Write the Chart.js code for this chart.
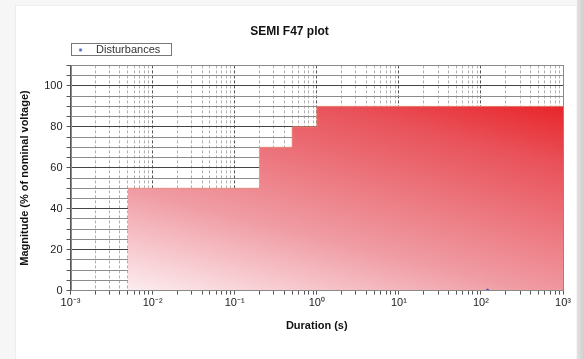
<!DOCTYPE html>
<html>
<head>
    <title>SEMI F47 plot</title>
    <script src="https://cdn.jsdelivr.net/npm/chart.js"></script>
    <style>
body {
    margin: 0;
    width: 584px;
    height: 359px;
    background-color: #f6f6f6;
    overflow: hidden;
    position: relative;
}
.card {
    position: absolute;
    left: 15px;
    top: 5px;
    width: 560px;
    height: 354px;
    background: #ffffff;
    border-left: 1px solid #ececec;
    border-top: 1px solid #f0f0f0;
}
.edge {
    position: absolute;
    left: 577px;
    top: 0;
    width: 7px;
    height: 359px;
    background: linear-gradient(to right, #e2e2e2, #cfcfcf);
}
#wrap {
    position: absolute;
    left: 0;
    top: 0;
    width: 584px;
    height: 359px;
}
    </style>
</head>
<body>
    <div class="card"></div>
    <div class="edge"></div>
    <div id="wrap">
        <canvas id="f47Chart"></canvas>
    </div>

    <script>
        // SEMI F47 ride-through curve (corner points)
        const curveDurations = [0.005, 0.2, 0.5, 1, 1000];
        const curveMagnitudes = [50, 70, 80, 90, 90];

        // recorded disturbances
        const disturbanceDurations = [120];
        const disturbanceMagnitudes = [0];

        // axis ticks
        const decades = [-3, -2, -1, 0, 1, 2, 3];
        const decadeLabels = ['10\u207B\u00B3', '10\u207B\u00B2', '10\u207B\u00B9', '10\u2070', '10\u00B9', '10\u00B2', '10\u00B3'];
        const magnitudeLabels = [0, 20, 40, 60, 80, 100];

        const FONT = "'Liberation Sans', Arial, sans-serif";

        // small blue marker for the legend
        const marker = document.createElement('canvas');
        marker.width = 5;
        marker.height = 5;
        const mctx = marker.getContext('2d');
        mctx.fillStyle = '#5560d0';
        mctx.beginPath();
        mctx.arc(2.5, 2.5, 1.6, 0, Math.PI * 2);
        mctx.fill();

        function areaGradient(context) {
            const chart = context.chart;
            const area = chart.chartArea;
            if (!area) return 'rgba(235,70,75,0.8)';
            const xs = chart.scales.x, ys = chart.scales.y;
            const x0 = xs.getPixelForValue(curveDurations[0]);
            const y0 = ys.getPixelForValue(0);
            const g = chart.ctx.createLinearGradient(x0, y0, x0 + 70, y0 - 276);
            g.addColorStop(0, '#fcedf0');
            g.addColorStop(0.35, '#f09ba3');
            g.addColorStop(0.8, '#e9525a');
            g.addColorStop(1, '#e8262b');
            return g;
        }

        const frame = {
            id: 'frame',
            afterDraw(chart) {
                const ctx = chart.ctx;
                const a = chart.chartArea;
                ctx.save();
                ctx.strokeStyle = '#8a8a8a';
                ctx.lineWidth = 1;
                ctx.strokeRect(Math.round(a.left) + 0.5, Math.round(a.top) + 0.5, Math.round(a.right - a.left), Math.round(a.bottom - a.top));
                const hb = chart.legend.legendHitBoxes[0];
                if (hb) {
                    ctx.strokeStyle = '#777';
                    ctx.strokeRect(Math.round(a.left) + 0.5, Math.round(hb.top) - 0.5, Math.round(hb.left + hb.width + 10 - a.left), Math.round(hb.height) + 1);
                }
                ctx.restore();
            }
        };

        new Chart(document.getElementById('f47Chart'), {
            type: 'scatter',
            data: {
                datasets: [{
                    label: 'Disturbances',
                    data: disturbanceDurations.map((d, i) => ({x: d, y: disturbanceMagnitudes[i]})),
                    pointStyle: 'star',
                    pointRadius: 2,
                    borderColor: '#3b4fc8',
                    backgroundColor: '#3b4fc8',
                    borderWidth: 1,
                    order: 0
                }, {
                    label: 'F47',
                    type: 'line',
                    data: curveDurations.map((d, i) => ({x: d, y: curveMagnitudes[i]})),
                    stepped: 'before',
                    fill: 'origin',
                    backgroundColor: areaGradient,
                    borderColor: 'rgba(240,150,120,0.7)',
                    borderWidth: 1,
                    pointRadius: 0,
                    order: 1
                }]
            },
            options: {
                responsive: true,
                maintainAspectRatio: false,
                animation: false,
                layout: {padding: {left: 16, right: 21, top: 8, bottom: 26}},
                plugins: {
                    title: {
                        display: true,
                        text: 'SEMI F47 plot',
                        color: '#111',
                        font: {family: FONT, size: 12, weight: 'bold'},
                        padding: {top: 16, bottom: 6}
                    },
                    legend: {
                        display: true,
                        fullSize: false,
                        align: 'start',
                        labels: {
                            filter: item => item.text === 'Disturbances',
                            usePointStyle: true,
                            pointStyle: marker,
                            pointStyleWidth: 20,
                            padding: 0,
                            color: '#333',
                            font: {family: FONT, size: 11, lineHeight: 1.1}
                        }
                    },
                    tooltip: {enabled: false}
                },
                scales: {
                    x: {
                        type: 'logarithmic',
                        min: 0.001,
                        max: 1000,
                        afterBuildTicks(scale) {
                            const ticks = [];
                            decades.forEach(e => {
                                for (let m = 1; m <= 9; m++) {
                                    if (e === 3 && m > 1) break;
                                    ticks.push({value: m * Math.pow(10, e), major: m === 1});
                                }
                            });
                            scale.ticks = ticks;
                        },
                        ticks: {
                            autoSkip: false,
                            maxRotation: 0,
                            padding: 2,
                            color: '#222',
                            font: {family: FONT, size: 11},
                            callback(value) {
                                const e = Math.round(Math.log10(value));
                                if (Math.abs(value - Math.pow(10, e)) / value > 1e-6) return '';
                                return decadeLabels[decades.indexOf(e)];
                            }
                        },
                        grid: {
                            color: ctx => (ctx.tick && ctx.tick.major) ? '#555' : '#b0b0b0',
                            tickColor: '#555',
                            tickLength: 4,
                            lineWidth: 1
                        },
                        border: {color: '#666', dash: [3, 2]},
                        title: {
                            display: true,
                            text: 'Duration (s)',
                            color: '#111',
                            font: {family: FONT, size: 11, weight: 'bold'},
                            padding: {top: 8, bottom: 0}
                        }
                    },
                    y: {
                        min: 0,
                        max: 110,
                        ticks: {
                            stepSize: 5,
                            autoSkip: false,
                            padding: 4,
                            color: '#222',
                            font: {family: FONT, size: 11},
                            callback: value => magnitudeLabels.includes(value) ? String(value) : ''
                        },
                        grid: {
                            color: ctx => (ctx.tick && ctx.tick.value % 20 === 0) ? '#444' : '#8c8c8c',
                            tickColor: '#555',
                            tickLength: 4
                        },
                        border: {color: '#555'},
                        title: {
                            display: true,
                            text: 'Magnitude (% of nominal voltage)',
                            color: '#111',
                            font: {family: FONT, size: 11, weight: 'bold'},
                            padding: {top: 2, bottom: 9}
                        }
                    }
                }
            },
            plugins: [frame]
        });
    </script>
</body>
</html>
